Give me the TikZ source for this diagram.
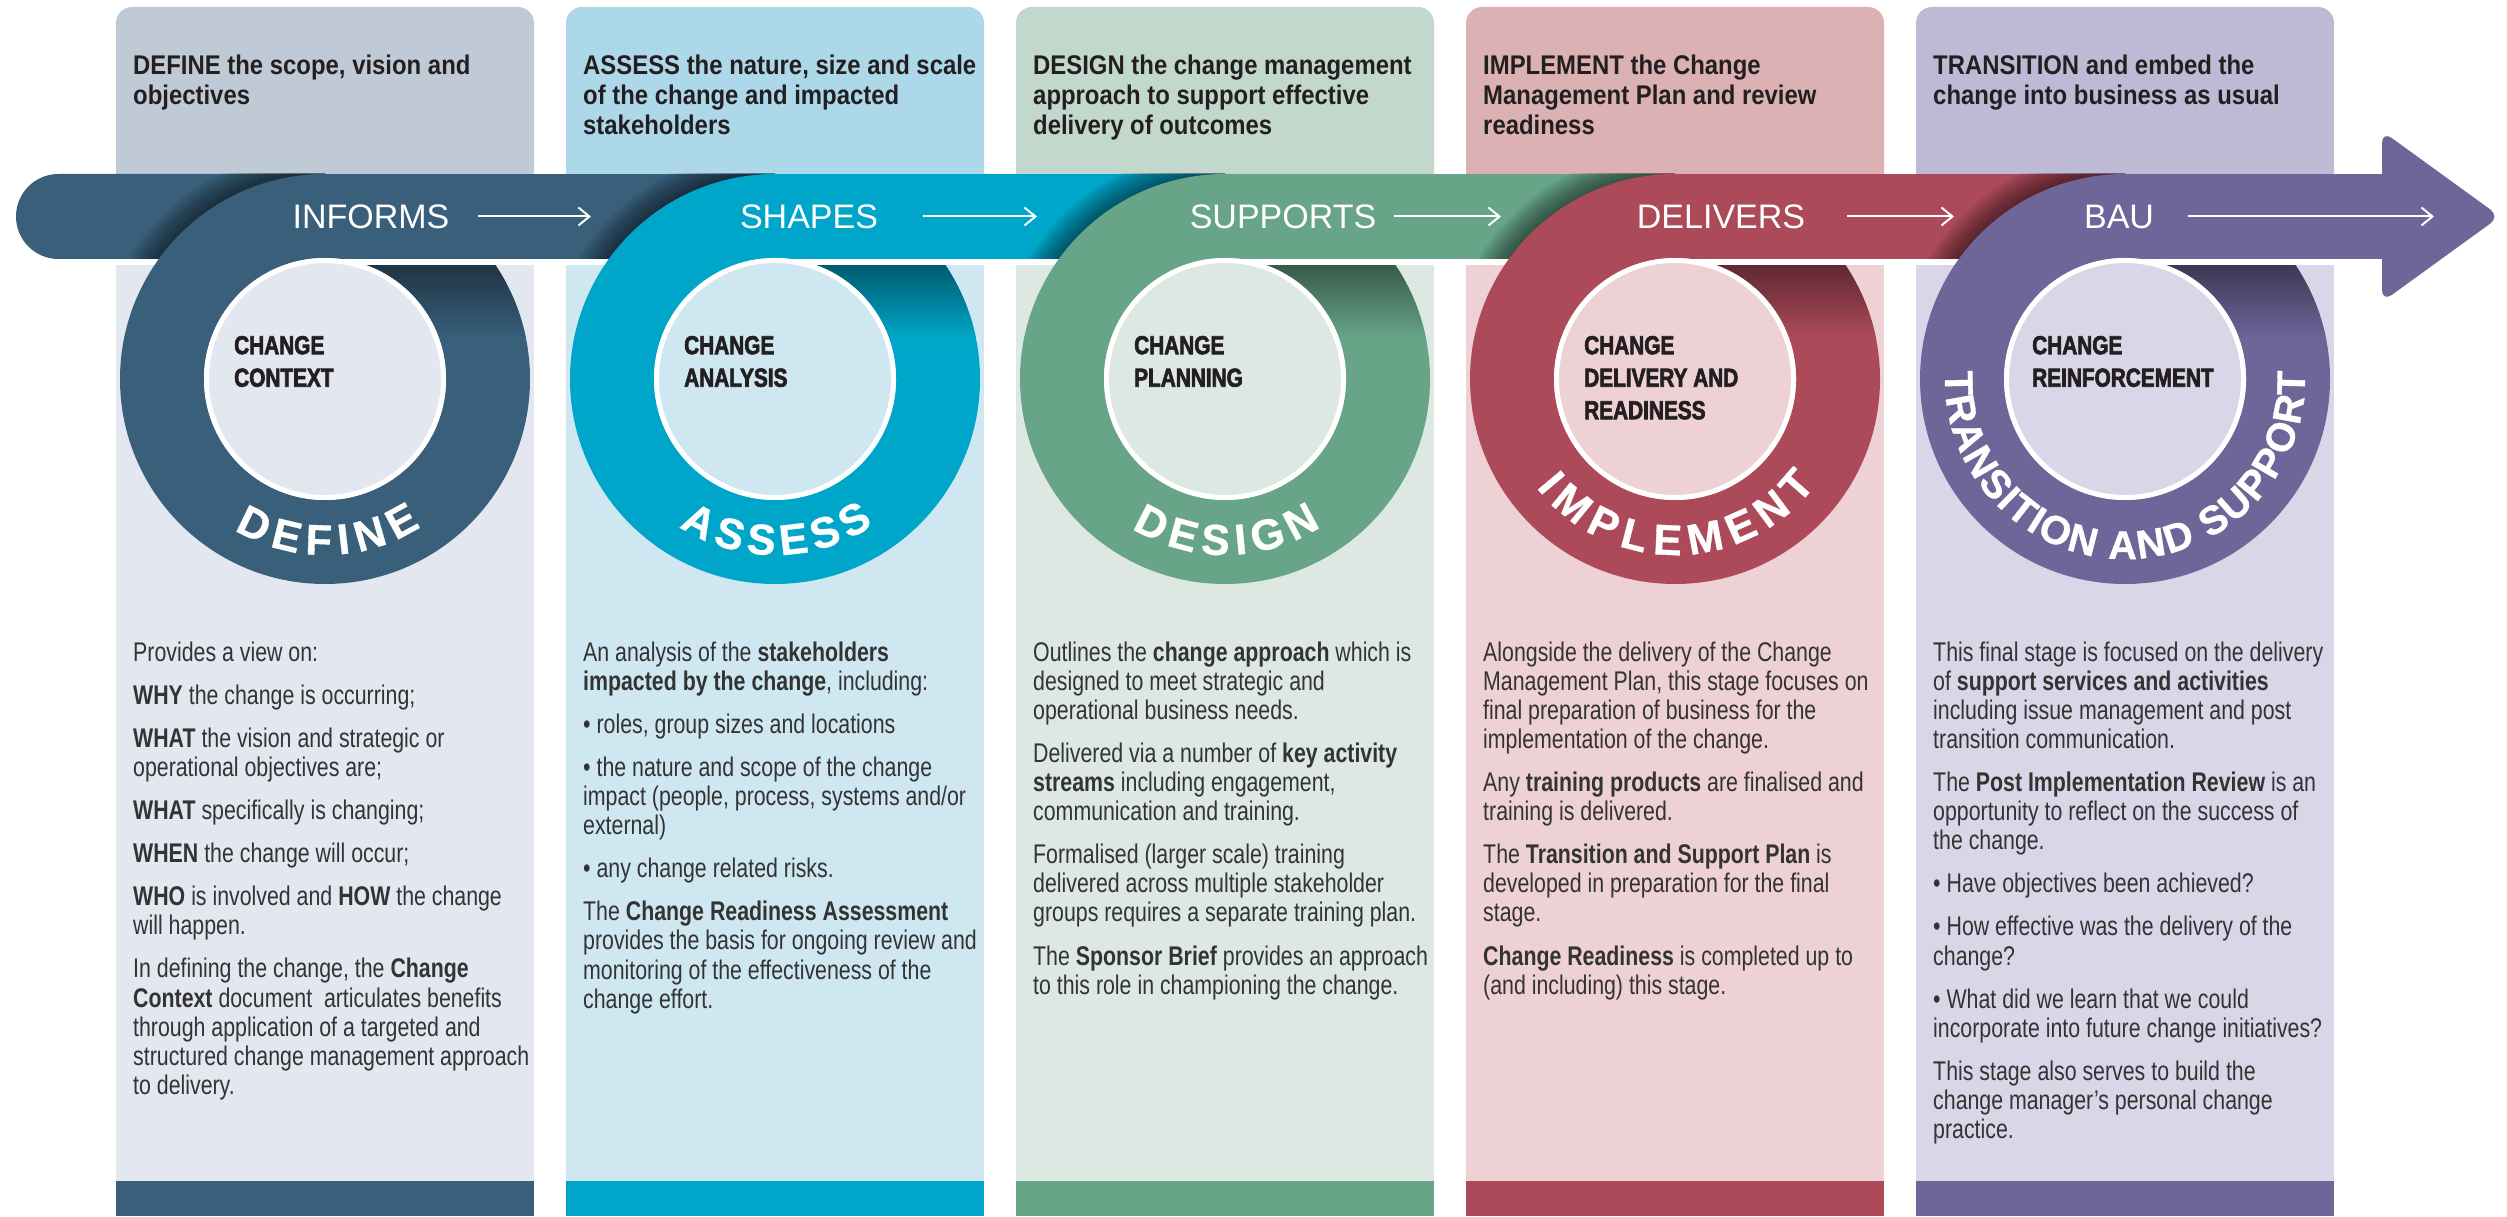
\documentclass[tikz,border=0pt]{standalone}
\usepackage{fontspec}
\setmainfont{Liberation Sans}
\newfontfamily\bodyfont{Liberation Sans}[FakeStretch=0.79]
\newfontfamily\hdrfont{Liberation Sans}[FakeStretch=0.885]
\newfontfamily\innerfont{Liberation Sans Bold}[FakeStretch=0.80,FakeBold=2.5]
\newfontfamily\ringfont{Liberation Sans Bold}[FakeBold=0.8]
\newfontfamily\bandfont{Liberation Sans}
\usetikzlibrary{arrows.meta,decorations.text}
\definecolor{cA}{HTML}{395F7B}\definecolor{hA}{HTML}{BFCAD6}\definecolor{lA}{HTML}{E3E7EF}
\definecolor{cB}{HTML}{00A6C9}\definecolor{hB}{HTML}{ADD8E9}\definecolor{lB}{HTML}{CFE7F1}
\definecolor{cC}{HTML}{67A488}\definecolor{hC}{HTML}{C3D8CD}\definecolor{lC}{HTML}{DCE8E1}
\definecolor{cD}{HTML}{AD4A5A}\definecolor{hD}{HTML}{DCB1B4}\definecolor{lD}{HTML}{EDD1D4}
\definecolor{cE}{HTML}{6E6599}\definecolor{hE}{HTML}{BEB9D4}\definecolor{lE}{HTML}{D9D6E8}
\definecolor{ink}{HTML}{231F20}\definecolor{bodyink}{HTML}{333333}
\tikzset{
  hdrtxt/.style={anchor=north west,inner sep=0pt,align=left,text=ink,
    font=\hdrfont\bfseries\fontsize{27}{30.4}\selectfont},
  bodytxt/.style={anchor=north west,inner sep=0pt,align=left,text=bodyink,
    font=\bodyfont\fontsize{27}{29.1}\selectfont},
  innertxt/.style={anchor=north west,inner sep=0pt,align=left,text=ink,
    font=\innerfont\fontsize{26}{32.5}\selectfont},
  bandlbl/.style={anchor=center,inner sep=0pt,text=white,
    font=\bandfont\fontsize{34}{34}\selectfont},
  thinarrow/.style={white,line width=2pt,-{Straight Barb[length=11pt,width=18pt]}},
}
\newcommand{\ringlbl}{\ringfont\fontsize{43}{43}\selectfont}
\newcommand{\ringlblsm}{\ringfont\fontsize{40}{40}\selectfont}
\begin{document}
\begin{tikzpicture}[x=1pt,y=1pt]
\useasboundingbox (0,0) rectangle (2507,1216);
\fill[white] (0,0) rectangle (2507,1216);
% columns
\foreach \L/\h/\l/\c in {116/hA/lA/cA,566/hB/lB/cB,1016/hC/lC/cC,1466/hD/lD/cD,1916/hE/lE/cE}{
  \fill[\h,rounded corners=16pt] (\L,990) rectangle (\L+418,1209);
  \fill[\l] (\L,35) rectangle (\L+418,951);
  \fill[\c] (\L,0) rectangle (\L+418,35);
}
% band start
\fill[cA] (325,957) -- (58.5,957) arc[start angle=270,end angle=90,radius=42.5] -- (325,1042) -- cycle;
% ring pieces
\foreach \cx/\xe/\c/\l in {325/775/cA/lA,775/1225/cB/lB,1225/1675/cC/lC,1675/2125/cD/lD,2125/2382/cE/lE}{
  \begin{scope}
    \clip (\cx-300,957) rectangle (\cx,1042);
    \foreach \d in {2,4,...,26} \fill[black,opacity=0.045] (\cx,837) circle (205+\d);
  \end{scope}
  \fill[\c] (\cx,837) circle (205);
  \begin{scope}
    \clip (\cx,837) circle (205);
    \shade[top color=\c!55!black,bottom color=\c] (\cx,878) rectangle (\cx+210,951);
  \end{scope}
  \fill[white] (\cx,951) rectangle (\xe,957);
  \fill[\c] (\cx,957) rectangle (\xe,1042);
  \fill[\l] (\cx,837) circle (121);
  \draw[white,line width=5pt] (\cx,837) circle (118.5);
}
% arrow head
\fill[cE,rounded corners=12pt] (2382,999.5) -- (2382,1085) -- (2500,999.5) -- (2382,914) -- cycle;
% band labels and arrows
\node[bandlbl] (lb1) at (371,999.5) {INFORMS};
\node[bandlbl] (lb2) at (809,999.5) {SHAPES};
\node[bandlbl] (lb3) at (1283,999.5) {SUPPORTS};
\node[bandlbl] (lb4) at (1721,999.5) {DELIVERS};
\node[bandlbl] (lb5) at (2119,999.5) {BAU};
\coordinate (as1) at (478,999.5); \coordinate (ae1) at (591,999.5);
\coordinate (as2) at (923,999.5); \coordinate (ae2) at (1037,999.5);
\coordinate (as3) at (1394,999.5); \coordinate (ae3) at (1501,999.5);
\coordinate (as4) at (1847,999.5); \coordinate (ae4) at (1954,999.5);
\coordinate (as5) at (2188,999.5); \coordinate (ae5) at (2434,999.5);
\foreach \i in {1,...,5} \draw[thinarrow] (as\i) -- (ae\i);
% inner texts
\node[innertxt] (in1) at (234,884.75) {\strut CHANGE\\CONTEXT};
\node[innertxt] (in2) at (684,884.75) {\strut CHANGE\\ANALYSIS};
\node[innertxt] (in3) at (1134,884.75) {\strut CHANGE\\PLANNING};
\node[innertxt] (in4) at (1584,884.75) {\strut CHANGE\\DELIVERY AND\\READINESS};
\node[innertxt] (in5) at (2032,884.75) {\strut CHANGE\\REINFORCEMENT};
% ring labels
\path[decorate,decoration={text along path,text={|\ringlbl|DEFINE},text align=fit to path,text color=white}]
  ([shift={(325,837)}]239:176) arc[start angle=239,end angle=303,radius=176];
\path[decorate,decoration={text along path,text={|\ringlbl|ASSESS},text align=fit to path,text color=white}]
  ([shift={(775,837)}]237:176) arc[start angle=237,end angle=304,radius=176];
\path[decorate,decoration={text along path,text={|\ringlbl|DESIGN},text align=fit to path,text color=white}]
  ([shift={(1225,837)}]238:176) arc[start angle=238,end angle=303,radius=176];
\path[decorate,decoration={text along path,text={|\ringlbl|IMPLEMENT},text align=fit to path,text color=white}]
  ([shift={(1675,837)}]218:176) arc[start angle=218,end angle=323,radius=176];
\path[decorate,decoration={text along path,text={|\ringlblsm|TRANSITION AND SUPPORT},text align=fit to path,text color=white}]
  ([shift={(2125,837)}]177.5:180) arc[start angle=177.5,end angle=362.5,radius=180];
% headers
\node[hdrtxt] (hd1) at (133,1163.3) {\strut DEFINE the scope, vision and\\objectives};
\node[hdrtxt] (hd2) at (583,1163.3) {\strut ASSESS the nature, size and scale\\of the change and impacted\\stakeholders};
\node[hdrtxt] (hd3) at (1033,1163.3) {\strut DESIGN the change management\\approach to support effective\\delivery of outcomes};
\node[hdrtxt] (hd4) at (1483,1163.3) {\strut IMPLEMENT the Change\\Management Plan and review\\readiness};
\node[hdrtxt] (hd5) at (1933,1163.3) {\strut TRANSITION and embed the\\change into business as usual};
% bodies
\node[bodytxt] (bd1) at (133,575.4) {\strut Provides a view on:\\[14pt]
\textbf{WHY} the change is occurring;\\[14pt]
\textbf{WHAT} the vision and strategic or\\operational objectives are;\\[14pt]
\textbf{WHAT} specifically is changing;\\[14pt]
\textbf{WHEN} the change will occur;\\[14pt]
\textbf{WHO} is involved and \textbf{HOW} the change\\will happen.\\[14pt]
In defining the change, the \textbf{Change}\\\textbf{Context} document\ \ articulates benefits\\through application of a targeted and\\structured change management approach\\to delivery.};
\node[bodytxt] (bd2) at (583,575.4) {\strut An analysis of the \textbf{stakeholders}\\\textbf{impacted by the change}, including:\\[14pt]
• roles, group sizes and locations\\[14pt]
• the nature and scope of the change\\impact (people, process, systems and/or\\external)\\[14pt]
• any change related risks.\\[14pt]
The \textbf{Change Readiness Assessment}\\provides the basis for ongoing review and\\monitoring of the effectiveness of the\\change effort.};
\node[bodytxt] (bd3) at (1033,575.4) {\strut Outlines the \textbf{change approach} which is\\designed to meet strategic and\\operational business needs.\\[14pt]
Delivered via a number of \textbf{key activity}\\\textbf{streams} including engagement,\\communication and training.\\[14pt]
Formalised (larger scale) training\\delivered across multiple stakeholder\\groups requires a separate training plan.\\[14pt]
The \textbf{Sponsor Brief} provides an approach\\to this role in championing the change.};
\node[bodytxt] (bd4) at (1483,575.4) {\strut Alongside the delivery of the Change\\Management Plan, this stage focuses on\\final preparation of business for the\\implementation of the change.\\[14pt]
Any \textbf{training products} are finalised and\\training is delivered.\\[14pt]
The \textbf{Transition and Support Plan} is\\developed in preparation for the final\\stage.\\[14pt]
\textbf{Change Readiness} is completed up to\\(and including) this stage.};
\node[bodytxt] (bd5) at (1933,575.4) {\strut This final stage is focused on the delivery\\of \textbf{support services and activities}\\including issue management and post\\transition communication.\\[14pt]
The \textbf{Post Implementation Review} is an\\opportunity to reflect on the success of\\the change.\\[14pt]
• Have objectives been achieved?\\[14pt]
• How effective was the delivery of the\\change?\\[14pt]
• What did we learn that we could\\incorporate into future change initiatives?\\[14pt]
This stage also serves to build the\\change manager’s personal change\\practice.};
\end{tikzpicture}
\end{document}
